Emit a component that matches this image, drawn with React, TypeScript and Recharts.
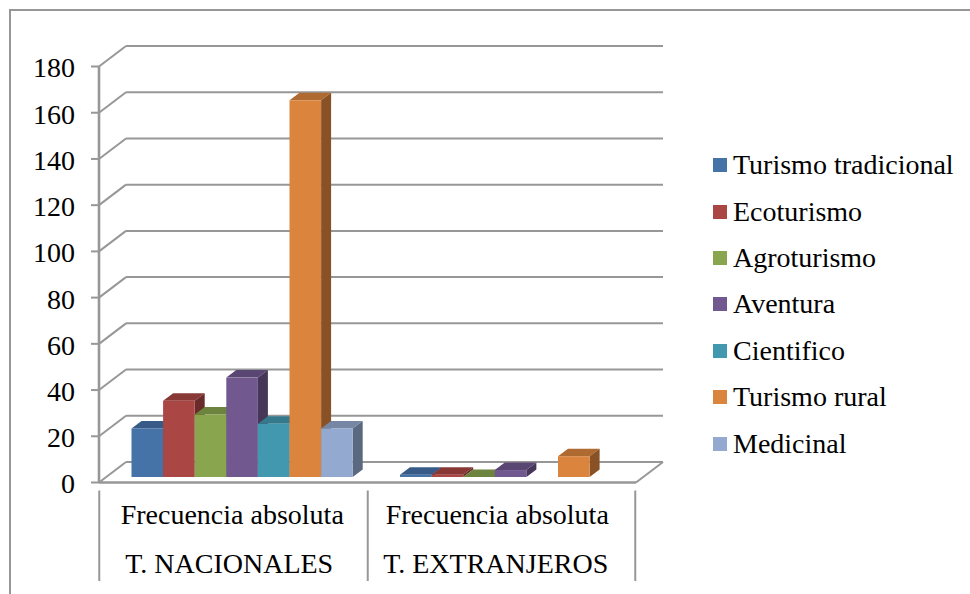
import { Bar, BarChart, CartesianGrid, Legend, XAxis, YAxis } from "recharts";

const groups = ["T. NACIONALES", "T. EXTRANJEROS"];
const measures = ["Frecuencia absoluta", "Frecuencia absoluta"];
const yTicks = [0, 20, 40, 60, 80, 100, 120, 140, 160, 180];

const turismoTradicional = [21, 1];
const ecoturismo = [33, 1];
const agroturismo = [27, 0];
const aventura = [43, 3];
const cientifico = [23, null];
const turismoRural = [163, 9];
const medicinal = [21, null];

const series = [
  { name: "Turismo tradicional", values: turismoTradicional, front: "#4572a7", top: "#375b86", side: "#2b4768" },
  { name: "Ecoturismo", values: ecoturismo, front: "#aa4643", top: "#883835", side: "#692b29" },
  { name: "Agroturismo", values: agroturismo, front: "#89a54e", top: "#6d843e", side: "#556630" },
  { name: "Aventura", values: aventura, front: "#71588f", top: "#5a4672", side: "#463758" },
  { name: "Cientifico", values: cientifico, front: "#4198af", top: "#34798c", side: "#285e6c" },
  { name: "Turismo rural", values: turismoRural, front: "#db843d", top: "#af6a31", side: "#885226" },
  { name: "Medicinal", values: medicinal, front: "#93a9cf", top: "#7587a5", side: "#5b6980" },
];

const data = groups.map((group, i) => {
  const row: Record<string, string | number | null> = { group, measure: measures[i] };
  series.forEach((s) => {
    row[s.name] = s.values[i];
  });
  return row;
});

const FONT = "'Liberation Serif', 'Times New Roman', serif";
const AXIS_GRAY = "#979797";
// wall offset of the fake 3D box, and how far the bars sit inside it
const WALL_X = 27;
const WALL_Y = 20.5;
const BAR_X = 8.5;
const BAR_Y = 5.5;
const DEPTH_X = 10;
const DEPTH_Y = 7.5;
// the labels in the reference are not quite centred under their bands
const MEASURE_NUDGE = [-1, -4.5];
const GROUP_NUDGE = [-4, -6];

function GridLine(props: any) {
  const { x1, x2, y1, y, height } = props;
  const isFloor = Math.abs(y1 - (y + height)) < 1;
  return (
    <g stroke={AXIS_GRAY} strokeWidth={2} fill="none">
      <line x1={x1} y1={y1} x2={x1 + WALL_X} y2={y1 - WALL_Y} />
      <line x1={x1 + WALL_X} y1={y1 - WALL_Y} x2={x2 + WALL_X} y2={y1 - WALL_Y} />
      {isFloor && <line x1={x2} y1={y1} x2={x2 + WALL_X} y2={y1 - WALL_Y} />}
    </g>
  );
}

function Bar3D(props: any) {
  const { x, y, width, height, front, top, side } = props;
  const left = x + BAR_X;
  const right = left + width;
  const upper = y - BAR_Y;
  const lower = upper + height;
  return (
    <g>
      <polygon
        points={`${left},${upper} ${left + DEPTH_X},${upper - DEPTH_Y} ${right + DEPTH_X},${upper - DEPTH_Y} ${right},${upper}`}
        fill={top}
      />
      <polygon
        points={`${right},${upper} ${right + DEPTH_X},${upper - DEPTH_Y} ${right + DEPTH_X},${lower - DEPTH_Y} ${right},${lower}`}
        fill={side}
      />
      <rect x={left} y={upper} width={width} height={height} fill={front} />
    </g>
  );
}

function CategoryTick(props: any) {
  const { x, y, index } = props;
  const half = 134;
  const bottom = 581;
  return (
    <g>
      <line x1={x - half} y1={y} x2={x - half} y2={bottom} stroke={AXIS_GRAY} strokeWidth={2} />
      {index === groups.length - 1 && (
        <line x1={x + half - 0.5} y1={y} x2={x + half - 0.5} y2={bottom} stroke={AXIS_GRAY} strokeWidth={2} />
      )}
      <text x={x + MEASURE_NUDGE[index]} y={514} dy="0.34em" textAnchor="middle" fontFamily={FONT} fontSize={28} fill="#000">
        {measures[index]}
      </text>
      <text x={x + GROUP_NUDGE[index]} y={563} dy="0.34em" textAnchor="middle" fontFamily={FONT} fontSize={28} fill="#000">
        {groups[index]}
      </text>
    </g>
  );
}

function LegendList({ payload }: any) {
  return (
    <ul style={{ listStyle: "none", margin: 0, padding: 0, fontFamily: FONT, fontSize: 28, color: "#000" }}>
      {payload.map((entry: any) => (
        <li key={entry.value} style={{ display: "flex", alignItems: "center", height: 46.4, whiteSpace: "nowrap" }}>
          <span style={{ width: 14, height: 14, background: entry.color, marginRight: 6, flex: "none" }} />
          {entry.value}
        </li>
      ))}
    </ul>
  );
}

export default function App() {
  return (
    <div style={{ position: "absolute", left: 0, top: 0, width: 970, height: 594, background: "#fff", overflow: "hidden" }}>
      <div
        style={{
          position: "absolute",
          left: 9,
          top: 9,
          right: 0,
          bottom: 0,
          borderLeft: `2px solid ${AXIS_GRAY}`,
          borderTop: `2px solid ${AXIS_GRAY}`,
        }}
      />
      <BarChart
        width={970}
        height={594}
        data={data}
        barGap={0}
        barSize={31.6}
        margin={{ top: 66.5, right: 334, bottom: 10, left: 0 }}
        style={{ position: "absolute", left: 0, top: 0 }}
      >
        <CartesianGrid vertical={false} horizontal={(p: any) => <GridLine key={p.key} {...p} />} />
        <XAxis
          dataKey="group"
          height={101.5}
          interval={0}
          tickLine={false}
          axisLine={{ stroke: AXIS_GRAY, strokeWidth: 2.6 }}
          tick={<CategoryTick />}
        />
        <YAxis
          width={99}
          domain={[0, 180]}
          ticks={yTicks}
          interval={0}
          tickSize={8}
          tickMargin={16}
          axisLine={{ stroke: AXIS_GRAY, strokeWidth: 2.6 }}
          tickLine={{ stroke: AXIS_GRAY, strokeWidth: 2 }}
          tick={{ fontFamily: FONT, fontSize: 28, fill: "#000", dy: 1 }}
        />
        <Legend
          layout="vertical"
          align="center"
          verticalAlign="middle"
          itemSorter={null}
          wrapperStyle={{ left: 713, top: 142, width: 257 }}
          content={<LegendList />}
        />
        {series.map((s) => (
          <Bar
            key={s.name}
            dataKey={s.name}
            fill={s.front}
            isAnimationActive={false}
            shape={(p: any) =>
              p.payload[s.name] == null ? <g /> : <Bar3D {...p} front={s.front} top={s.top} side={s.side} />
            }
          />
        ))}
      </BarChart>
    </div>
  );
}
